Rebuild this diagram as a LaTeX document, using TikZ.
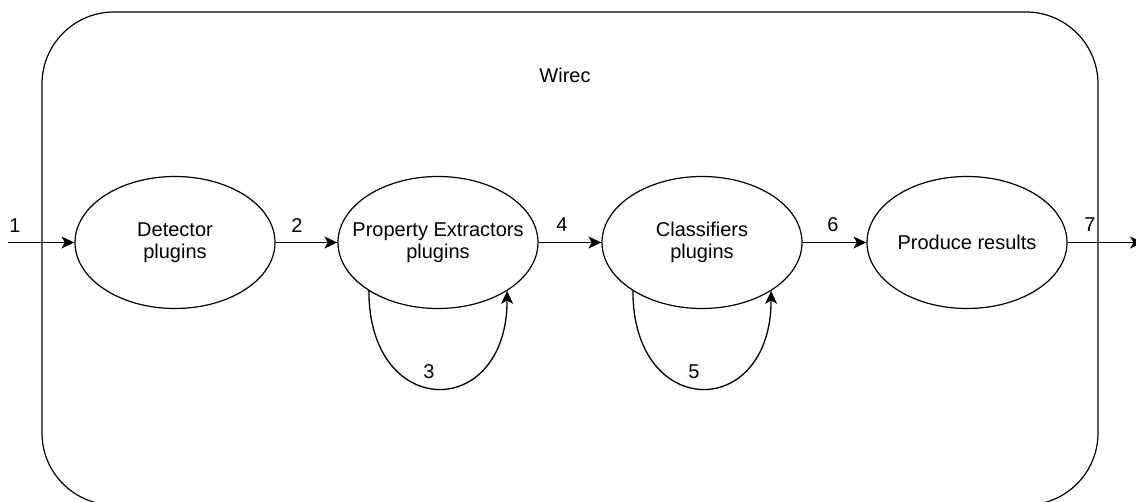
\documentclass[tikz,border=0pt]{standalone}
\usepackage{fontspec}
\setmainfont{Liberation Sans}
\usetikzlibrary{shapes.geometric,arrows.meta}
\tikzset{
  proc/.style={draw, ellipse, minimum width=200pt, minimum height=132pt, inner xsep=-18pt, inner ysep=0pt, align=center, line width=1.2pt},
  lbl/.style={inner sep=0pt},
  flow/.style={line width=1.3pt, -{Stealth[length=13pt,width=12pt,inset=3.5pt]}},
  container/.style={draw, line width=1.2pt, rounded corners=72pt, minimum width=1056pt, minimum height=493pt, inner sep=0pt}
}
\begin{document}
\begin{tikzpicture}[x=1pt,y=-1pt,font=\fontsize{20}{22}\selectfont]
\useasboundingbox (0,0) rectangle (1136,502);
\node[container] (box) at (570,258.5) {};
\node[lbl] (title) at (565,75) {Wirec};
\node[proc] (det) at (175,242.5) {Detector\\plugins};
\node[proc] (pe) at (438,242.5) {Property Extractors\\plugins};
\node[proc] (cls) at (702,242.5) {Classifiers\\plugins};
\node[proc] (res) at (967,242.5) {Produce results};
\coordinate (in) at (8,242.5);
\coordinate (out) at (1143,242.5);
\draw[flow] (in) -- (det);
\draw[flow] (det) -- (pe);
\draw[flow] (pe) -- (cls);
\draw[flow] (cls) -- (res);
\draw[flow] (res) -- (out);
\draw[flow] (pe.215) .. controls +(0,130) and +(0,130) .. (pe.325);
\draw[flow] (cls.215) .. controls +(0,130) and +(0,130) .. (cls.325);
\node[lbl] (l1) at (15,226) {1};
\node[lbl] (l2) at (297,226) {2};
\node[lbl] (l3) at (429,372) {3};
\node[lbl] (l4) at (562,225) {4};
\node[lbl] (l5) at (694,372) {5};
\node[lbl] (l6) at (833,225) {6};
\node[lbl] (l7) at (1090,225) {7};
\end{tikzpicture}
\end{document}
